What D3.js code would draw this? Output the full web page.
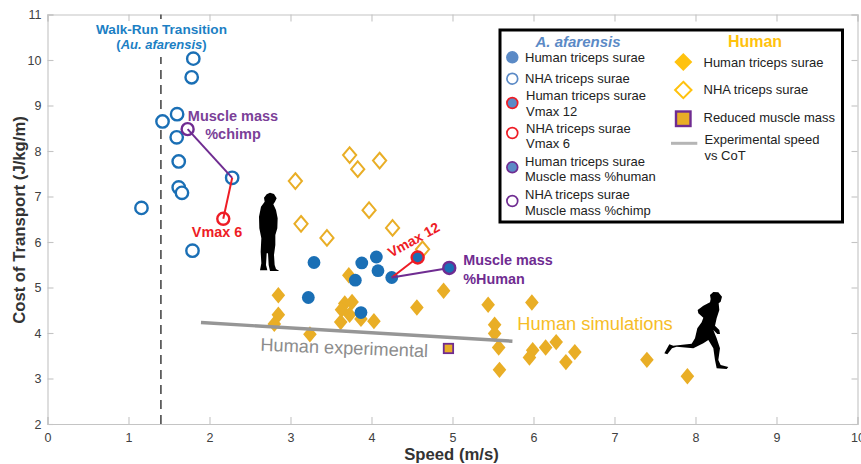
<!DOCTYPE html>
<html>
<head>
<meta charset="utf-8">
<script src="https://cdnjs.cloudflare.com/ajax/libs/d3/7.8.5/d3.min.js"></script>
<style>
    html, body { margin: 0; padding: 0; background: #fff; }
    svg { display: block; font-family: Arial, "Liberation Sans", sans-serif; }
</style>
</head>
<body>
<svg id="chart" width="861" height="464"></svg>
<script>
    var nhaTriceps = [[1.80,10.03],[1.78,9.62],[1.60,8.81],[1.42,8.65],[1.595,8.30],[1.62,7.77],[2.28,7.41],[1.62,7.20],[1.66,7.08],[1.16,6.75],[1.79,5.81]];
    var humanTriceps = [[3.29,5.55],[3.88,5.54],[4.06,5.67],[4.08,5.37],[3.80,5.16],[4.25,5.22],[3.22,4.78],[3.87,4.45]];
    var humanSimHuman = [[3.72,5.27],[2.85,4.83],[2.85,4.40],[2.80,4.20],[3.24,3.97],[3.67,4.65],[3.76,4.68],[3.63,4.51],[3.73,4.40],[3.62,4.24],[3.87,4.31],[4.03,4.26],[4.56,4.56],[4.89,4.93],[5.44,4.62],[5.52,4.18],[5.52,3.99],[5.57,3.68],[5.58,3.19],[5.98,4.67],[5.99,3.62],[5.95,3.46],[6.15,3.68],[6.28,3.80],[6.40,3.36],[6.51,3.58],[7.40,3.41],[7.90,3.05]];
    var humanSimNha = [[3.73,7.91],[4.10,7.79],[3.83,7.60],[3.06,7.34],[3.97,6.70],[3.13,6.40],[4.26,6.31],[3.45,6.09],[4.63,5.84]];
    var reducedMass = [[4.95,3.66]];
    var experimental = [[1.895,4.23],[5.74,3.82]];
    var walkRun = 1.4;
    var nhaVmax = [2.17,6.51], nhaChimp = [1.73,8.48], nhaBase = [2.28,7.41];
    var humVmax = [4.57,5.66], humMass = [4.96,5.43], humBase = [4.25,5.22];
    var xTicks = [0,1,2,3,4,5,6,7,8,9,10];
    var yTicks = [2,3,4,5,6,7,8,9,10,11];

    var BLUE = '#1a6fb5', GOLD = '#e9ae26', RED = '#ee1c25', PURPLE = '#6f2c91';
    var LBLUE = '#5b8ac6', YEL = '#ffc20e';

    var svg = d3.select('#chart');
    var x = d3.scaleLinear().domain([0, 10]).range([47.5, 857.5]);
    var y = d3.scaleLinear().domain([2, 11]).range([424, 14.5]);

    // axes, box style with inward ticks
    var axisB = d3.axisBottom(x).tickValues(xTicks).tickSize(-7).tickPadding(9).tickFormat(d3.format('d'));
    var axisL = d3.axisLeft(y).tickValues(yTicks).tickSize(-6).tickPadding(6).tickFormat(d3.format('d'));
    var axisT = d3.axisTop(x).tickValues(xTicks).tickSize(-7).tickFormat('');
    var axisR = d3.axisRight(y).tickValues(yTicks).tickSize(-6).tickFormat('');

    function styleAxis(g) {
        g.selectAll('path,line').attr('stroke', '#c4c4c4').attr('stroke-width', 1.1);
        g.selectAll('text').attr('fill', '#404040').attr('font-size', 12.5).style('font-family', 'Arial, "Liberation Sans", sans-serif');
    }
    svg.append('g').attr('transform', 'translate(0,424)').call(axisB).call(styleAxis);
    svg.append('g').attr('transform', 'translate(47.5,0)').call(axisL).call(styleAxis);
    svg.append('g').attr('transform', 'translate(0,14.5)').call(axisT).call(styleAxis);
    svg.append('g').attr('transform', 'translate(857.5,0)').call(axisR).call(styleAxis);

    svg.append('text').attr('x', 451.5).attr('y', 460).attr('text-anchor', 'middle')
        .attr('font-size', 16.7).attr('font-weight', 'bold').attr('fill', '#333').text('Speed (m/s)');
    svg.append('text').attr('transform', 'translate(24.5,220) rotate(-90)').attr('text-anchor', 'middle')
        .attr('font-size', 16.7).attr('font-weight', 'bold').attr('fill', '#333').text('Cost of Transport (J/kg/m)');

    // walk-run transition
    svg.append('line').attr('x1', x(walkRun)).attr('x2', x(walkRun)).attr('y1', y(2)).attr('y2', y(11))
        .attr('stroke', '#555').attr('stroke-width', 1.7).attr('stroke-dasharray', '9,6');
    svg.append('rect').attr('x', 90).attr('y', 21).attr('width', 142).attr('height', 36).attr('fill', '#fff');
    svg.append('text').attr('x', 161.5).attr('y', 33.5).attr('text-anchor', 'middle').attr('font-size', 13.6)
        .attr('font-weight', 'bold').attr('fill', '#1c7fc4').text('Walk-Run Transition');
    var wr = svg.append('text').attr('x', 161.5).attr('y', 49).attr('text-anchor', 'middle').attr('font-size', 13)
        .attr('font-weight', 'bold').attr('fill', '#1c7fc4');
    wr.append('tspan').text('(');
    wr.append('tspan').attr('font-style', 'italic').text('Au. afarensis');
    wr.append('tspan').text(')');

    var diamond = function (h, w) { return 'M0,' + (-h) + 'L' + w + ',0L0,' + h + 'L' + (-w) + ',0Z'; };

    svg.append('g').selectAll('path').data(humanSimHuman).join('path')
        .attr('d', diamond(8.2, 6.8)).attr('fill', GOLD)
        .attr('transform', function (d) { return 'translate(' + x(d[0]) + ',' + y(d[1]) + ')'; });
    svg.append('g').selectAll('path').data(humanSimNha).join('path')
        .attr('d', diamond(7.8, 6.6)).attr('fill', '#fff').attr('stroke', GOLD).attr('stroke-width', 2)
        .attr('transform', function (d) { return 'translate(' + x(d[0]) + ',' + y(d[1]) + ')'; });

    // grey experimental line sits over the diamonds
    svg.append('path').attr('d', d3.line().x(function (d) { return x(d[0]); }).y(function (d) { return y(d[1]); })(experimental))
        .attr('stroke', '#969696').attr('stroke-width', 3.4).attr('fill', 'none');

    svg.append('g').selectAll('circle').data(nhaTriceps).join('circle')
        .attr('cx', function (d) { return x(d[0]); }).attr('cy', function (d) { return y(d[1]); })
        .attr('r', 6.2).attr('fill', '#fff').attr('stroke', BLUE).attr('stroke-width', 2.4);
    svg.append('g').selectAll('circle').data(humanTriceps).join('circle')
        .attr('cx', function (d) { return x(d[0]); }).attr('cy', function (d) { return y(d[1]); })
        .attr('r', 6.4).attr('fill', BLUE);

    // connector lines
    function link(a, b, c) {
        svg.append('line').attr('x1', x(a[0])).attr('y1', y(a[1])).attr('x2', x(b[0])).attr('y2', y(b[1]))
            .attr('stroke', c).attr('stroke-width', 2);
    }
    link(nhaBase, nhaVmax, RED);
    link(nhaBase, nhaChimp, PURPLE);
    link(humBase, humVmax, RED);
    link(humBase, humMass, PURPLE);

    function ring(p, fill, c) {
        svg.append('circle').attr('cx', x(p[0])).attr('cy', y(p[1])).attr('r', 6).attr('fill', fill)
            .attr('stroke', c).attr('stroke-width', 2.4);
    }
    ring(nhaVmax, 'none', RED);
    ring(nhaChimp, 'none', PURPLE);
    ring(humVmax, BLUE, RED);
    ring(humMass, BLUE, PURPLE);

    svg.selectAll('.reduced').data(reducedMass).join('rect').attr('class', 'reduced')
        .attr('x', function (d) { return x(d[0]) - 4.7; }).attr('y', function (d) { return y(d[1]) - 4.7; })
        .attr('width', 9.4).attr('height', 9.4).attr('fill', GOLD).attr('stroke', PURPLE).attr('stroke-width', 1.8);

    // annotations
    function label(px, py, txt, size, col, bold, rot) {
        svg.append('text').attr('text-anchor', 'middle').attr('font-size', size).attr('fill', col)
            .attr('font-weight', bold ? 'bold' : 'normal')
            .attr('transform', 'translate(' + px + ',' + py + ')' + (rot ? ' rotate(' + rot + ')' : ''))
            .text(txt);
    }
    label(233, 121, 'Muscle mass', 14.5, '#7b3f98', true);
    label(233, 138.5, '%chimp', 14.5, '#7b3f98', true);
    label(217, 237, 'Vmax 6', 14.4, RED, true);
    label(416, 244, 'Vmax 12', 14, RED, true, -29);
    label(508, 265, 'Muscle mass', 14.4, PURPLE, true);
    label(494, 283.5, '%Human', 14.4, PURPLE, true);
    label(344, 354, 'Human experimental', 18.2, '#8c8c8c', false, 2.2);
    label(595, 330, 'Human simulations', 18.3, '#f6bd27', false);

    // silhouettes, traced outlines
    var outline = d3.line().curve(d3.curveLinearClosed);
    var hominin = [[50,28],[60,23],[72,27],[80,40],[75,50],[70,58],[78,75],[83,100],[82,130],[76,150],[76,180],[72,210],[74,240],[78,252],[88,258],[60,258],[56,240],[54,205],[50,205],[48,240],[52,256],[30,256],[34,235],[32,200],[34,160],[28,130],[27,95],[33,65],[44,50],[42,38]];
    var runner = [[150,30],[160,21],[175,22],[186,35],[182,50],[176,55],[178,75],[170,100],[165,122],[178,135],[180,147],[172,147],[160,135],[170,160],[180,190],[175,225],[182,240],[205,246],[200,252],[170,250],[165,225],[160,190],[145,165],[130,175],[100,190],[50,185],[36,190],[22,208],[13,205],[28,178],[40,182],[95,176],[105,160],[112,130],[125,112],[130,98],[115,85],[113,75],[130,62],[150,52],[152,42]];
    svg.append('path').attr('d', outline(hominin)).attr('fill', '#000')
        .attr('transform', 'translate(250,185) scale(0.3333)');
    svg.append('path').attr('d', outline(runner)).attr('fill', '#000')
        .attr('transform', 'translate(660,285) scale(0.3333)');

    // legend
    var lg = svg.append('g');
    lg.append('rect').attr('x', 500).attr('y', 30).attr('width', 342.5).attr('height', 192)
        .attr('fill', '#fff').attr('stroke', '#000').attr('stroke-width', 3);

    function legendText(px, py, txt) {
        lg.append('text').attr('x', px).attr('y', py).attr('font-size', 13).attr('fill', '#222').text(txt);
    }
    legendText(525, 62, 'Human triceps surae');
    legendText(525, 83, 'NHA triceps surae');
    legendText(526, 100, 'Human triceps surae');
    legendText(526, 115.7, 'Vmax 12');
    legendText(526, 132.7, 'NHA triceps surae');
    legendText(526, 148.3, 'Vmax 6');
    legendText(525, 165.7, 'Human triceps surae');
    legendText(525, 181.3, 'Muscle mass %human');
    legendText(525, 199, 'NHA triceps surae');
    legendText(525, 215, 'Muscle mass %chimp');
    legendText(703.5, 66.5, 'Human triceps surae');
    legendText(703.5, 94, 'NHA triceps surae');
    legendText(703.5, 122.3, 'Reduced muscle mass');
    legendText(704.5, 144, 'Experimental speed');
    legendText(704.5, 159.5, 'vs CoT');

    lg.append('text').attr('x', 578).attr('y', 47).attr('text-anchor', 'middle').attr('font-size', 15)
        .attr('font-weight', 'bold').attr('font-style', 'italic').attr('fill', LBLUE).text('A. afarensis');
    lg.append('text').attr('x', 755).attr('y', 47).attr('text-anchor', 'middle').attr('font-size', 16)
        .attr('font-weight', 'bold').attr('fill', YEL).text('Human');

    [[57.3, LBLUE, LBLUE], [78.7, '#fff', LBLUE], [103, LBLUE, RED], [133, '#fff', RED], [167.3, LBLUE, PURPLE], [201, '#fff', PURPLE]]
        .forEach(function (m) {
            lg.append('circle').attr('cx', 512.3).attr('cy', m[0]).attr('r', 5.4).attr('fill', m[1]).attr('stroke', m[2]).attr('stroke-width', 1.7);
        });

    lg.append('path').attr('d', diamond(9, 9)).attr('transform', 'translate(683.3,62)').attr('fill', YEL);
    lg.append('path').attr('d', diamond(8.2, 8.2)).attr('transform', 'translate(683.3,90)').attr('fill', '#fff').attr('stroke', YEL).attr('stroke-width', 2);
    lg.append('rect').attr('x', 676).attr('y', 111.5).attr('width', 14.5).attr('height', 14.5).attr('fill', GOLD).attr('stroke', PURPLE).attr('stroke-width', 2.4);
    lg.append('line').attr('x1', 671).attr('x2', 697.3).attr('y1', 143.3).attr('y2', 143.3).attr('stroke', '#b5b5b5').attr('stroke-width', 3);
</script>
</body>
</html>
